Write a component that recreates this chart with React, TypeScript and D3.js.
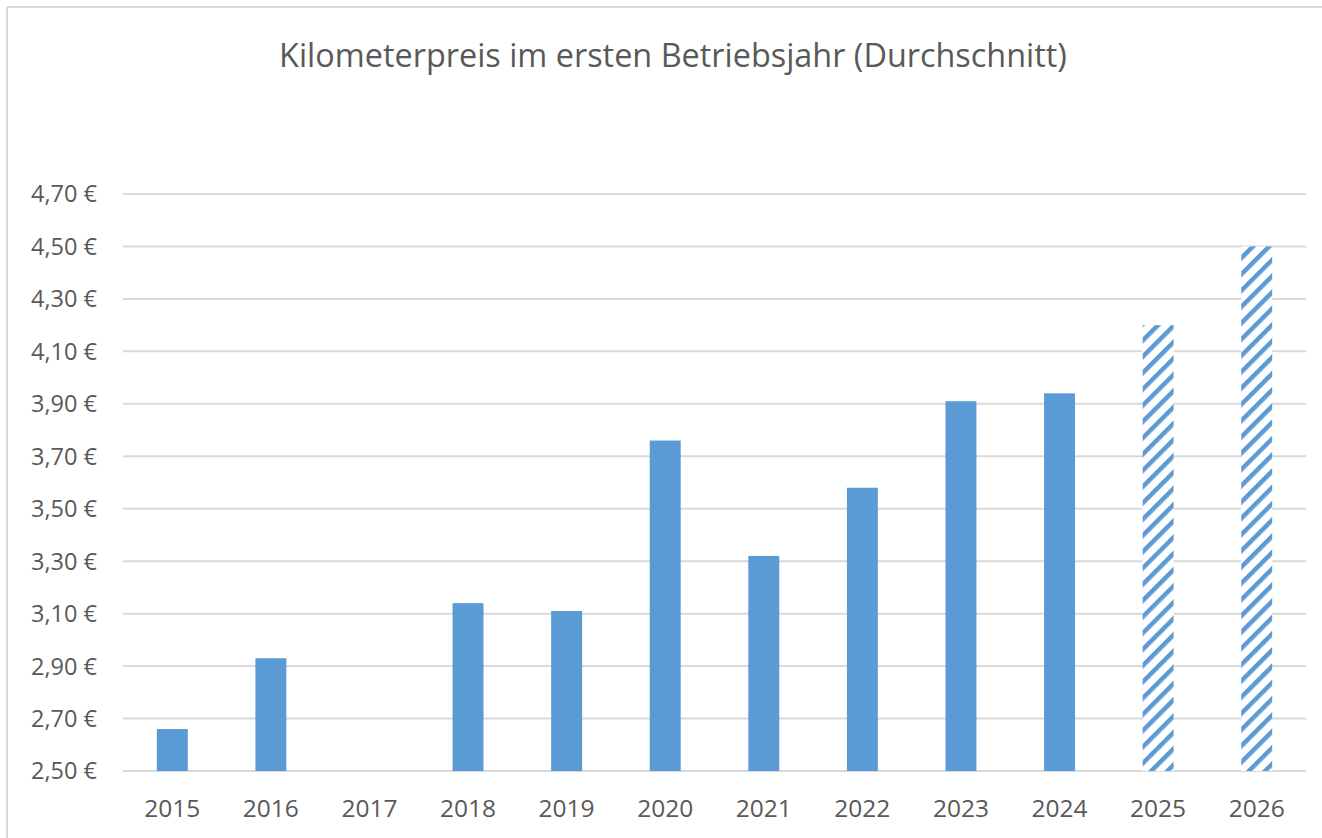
import React from "react";
import * as d3 from "d3";

const title = "Kilometerpreis im ersten Betriebsjahr (Durchschnitt)";
const years = ["2015", "2016", "2017", "2018", "2019", "2020", "2021", "2022", "2023", "2024", "2025", "2026"];
const prices: (number | null)[] = [2.66, 2.93, null, 3.14, 3.11, 3.76, 3.32, 3.58, 3.91, 3.94, 4.2, 4.5];
const forecast = [false, false, false, false, false, false, false, false, false, false, true, true];
const yTicks = [2.5, 2.7, 2.9, 3.1, 3.3, 3.5, 3.7, 3.9, 4.1, 4.3, 4.5, 4.7];

const W = 1322;
const H = 838;
const BLUE = "#5B9BD5";
const GRID = "#D9D9D9";
const TEXT = "#595959";
const FONT = "'Open Sans', 'Noto Sans', sans-serif";

export default function App() {
  const x = d3
    .scaleBand<string>()
    .domain(years)
    .range([123, 1306])
    .paddingInner(0.686)
    .paddingOuter(0.343);
  const y = d3.scaleLinear().domain([2.5, 4.7]).range([771, 194]);
  const fmt = (v: number) => v.toFixed(2).replace(".", ",") + "\u00A0€";

  return (
    <svg
      width={W}
      height={H}
      style={{ position: "absolute", left: 0, top: 0, background: "#fff" }}
    >
      <defs>
        <pattern
          id="hatch"
          patternUnits="userSpaceOnUse"
          width={11.5}
          height={11.5}
          patternTransform="rotate(45)"
        >
          <rect x={0} y={0} width={11.5} height={11.5} fill="#fff" />
          <rect x={0} y={0} width={4.5} height={11.5} fill={BLUE} />
        </pattern>
      </defs>
      <rect x={0} y={0} width={W} height={H} fill="#fff" />
      {/* chart border (top & left visible) */}
      <line x1={7} y1={7} x2={W} y2={7} stroke={GRID} strokeWidth={2} />
      <line x1={7} y1={7} x2={7} y2={H} stroke={GRID} strokeWidth={2} />

      <text
        x={673}
        y={67}
        textAnchor="middle"
        fontFamily={FONT}
        fontSize={32.4}
        fill={TEXT}
      >
        {title}
      </text>

      {yTicks.map((t) => (
        <g key={t}>
          <line
            x1={123}
            x2={1306}
            y1={y(t)}
            y2={y(t)}
            stroke={GRID}
            strokeWidth={2}
          />
          <text
            x={97}
            y={y(t)}
            dy="0.36em"
            textAnchor="end"
            fontFamily={FONT}
            fontSize={23.5}
            fill={TEXT}
          >
            {fmt(t)}
          </text>
        </g>
      ))}

      {years.map((yr, i) => {
        const v = prices[i];
        const bx = x(yr) as number;
        return (
          <g key={yr}>
            {v !== null && (
              <rect
                x={bx}
                y={y(v)}
                width={x.bandwidth()}
                height={y(2.5) - y(v)}
                fill={forecast[i] ? "url(#hatch)" : BLUE}
              />
            )}
            <text
              x={bx + x.bandwidth() / 2}
              y={817}
              textAnchor="middle"
              fontFamily={FONT}
              fontSize={24.5}
              fill={TEXT}
            >
              {yr}
            </text>
          </g>
        );
      })}
    </svg>
  );
}
